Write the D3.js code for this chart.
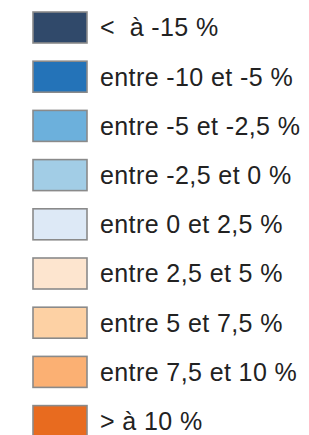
<!DOCTYPE html>
<html><head><meta charset="utf-8">
<script src="https://cdn.jsdelivr.net/npm/d3@7/dist/d3.min.js"></script>
<style>html,body{margin:0;padding:0;background:#fff;}</style>
</head><body>
<svg id="c" width="309" height="435"></svg>
<script>
const categories = ["< \u00a0à -15 %", "entre -10 et -5 %", "entre -5 et -2,5 %", "entre -2,5 et 0 %", "entre 0 et 2,5 %", "entre 2,5 et 5 %", "entre 5 et 7,5 %", "entre 7,5 et 10 %", "> à 10 %"];
const colors = ["#30496a", "#2473b8", "#6cb0dc", "#a2cde6", "#dde9f6", "#fde5cf", "#fdd1a4", "#fbb073", "#e86b1f"];

const svg = d3.select("#c");
const y = d3.scaleBand().domain(categories).range([12, 436.6]).paddingInner(0.37).paddingOuter(0);
const color = d3.scaleOrdinal().domain(categories).range(colors);

const g = svg.selectAll("g.item").data(categories).enter().append("g").attr("class","item")
  .attr("transform", d => `translate(0,${y(d)})`);
g.append("rect").attr("x", 33).attr("y", 0).attr("width", 54).attr("height", y.bandwidth())
  .attr("fill", d => color(d)).attr("stroke", "#8a8a8a").attr("stroke-width", 1.6);
g.append("text").attr("x", 100).attr("y", y.bandwidth()/2 + 9)
  .attr("font-family", "Liberation Sans, Arial, sans-serif").attr("font-size", 25)
  .attr("letter-spacing", 0.4)
  .attr("fill", "#222").text(d => d);
</script>
</body></html>
